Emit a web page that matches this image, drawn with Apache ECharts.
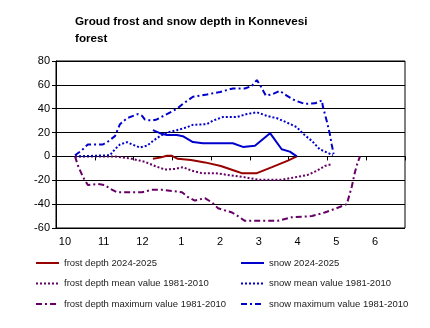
<!DOCTYPE html>
<html><head><meta charset="utf-8">
<script src="https://cdn.jsdelivr.net/npm/echarts@6/dist/echarts.min.js"></script>
<style>html,body{margin:0;padding:0;background:#fff}#c{width:430px;height:328px}</style>
</head><body><div id="c"></div>
<script>
// x positions: months measured from left edge of the plot (tick spacing = 1)
const monthLabels = ['10','11','12','1','2','3','4','5','6'];
const yTicks = [-60,-40,-20,0,20,40,60,80];

const frostNowX = [2.50,2.68,2.86,2.99,3.14,3.48,3.84,4.25,4.61,4.79,5.18,5.57,5.98,6.21];
const frostNowY = [-2,-1,0.5,0.5,-2,-3,-5,-8,-12,-14,-14,-9,-3.5,0];

const snowNowX = [2.50,2.68,2.86,3.12,3.27,3.53,3.79,4.56,4.82,5.13,5.52,5.82,6.03,6.21];
const snowNowY = [22,19.5,18,18,17,12,11,11,8,9,19.5,6,4,0];

const frostMeanX = [0.49,1.52,1.96,2.29,2.55,2.81,3.07,3.27,3.51,3.76,4.10,4.43,4.87,5.21,5.82,6.16,6.49,6.73,6.93,7.11];
const frostMeanY = [0,0,-2,-4.5,-8,-11,-10.5,-9,-12,-14,-14,-15.5,-17.5,-19.5,-19.5,-17.5,-15.5,-12,-8,-6.5];

const snowMeanX = [0.49,1.39,1.52,1.65,1.83,2.04,2.16,2.35,2.50,2.68,2.86,3.12,3.38,3.53,3.89,4.05,4.30,4.66,4.92,5.18,5.44,5.70,5.95,6.21,6.37,6.60,6.80,7.01,7.14];
const snowMeanY = [0,1,6,10,12,9,7.5,9,13,17,20,22,24.5,26.5,27,30,33,33,35.5,37,34,32,28.5,24.5,19,13,6,3,1];

const frostMaxX = [0.49,0.57,0.70,0.82,1.08,1.26,1.39,1.57,2.22,2.47,2.73,2.99,3.25,3.40,3.58,3.84,4.02,4.18,4.54,4.69,4.87,5.72,6.08,6.60,6.93,7.19,7.50,7.63,7.71,7.78,7.84];
const frostMaxY = [0,-8,-17.5,-24,-23,-24,-27,-30,-30,-28,-28,-29,-30,-34,-37,-35,-38.5,-43.5,-47,-50,-54,-54,-51,-50,-47,-44,-40,-25,-13,-5,0];

const snowMaxX = [0.49,0.66,0.82,1.21,1.34,1.52,1.65,1.83,2.11,2.22,2.29,2.47,2.60,2.86,3.12,3.27,3.53,3.89,4.23,4.56,4.87,5.05,5.18,5.26,5.41,5.57,5.77,5.95,6.16,6.42,6.68,6.86,6.88,6.98,7.06,7.11,7.16];
const snowMaxY = [1,5,10,10,12.5,17,27,32,35.5,34,31,30,31,35.5,40,44,50,52,54,57,57,59,64,60,51,52,55,51,47,44,44.5,47,42,30,19,10,2];

const names = ['frost depth 2024-2025','snow 2024-2025','frost depth mean value 1981-2010','snow mean value 1981-2010','frost depth maximum value 1981-2010','snow maximum value 1981-2010'];

function pairs(xs, ys){ return xs.map((x,i)=>[x, ys[i]]); }

const RED='#990000', BLUE='#0000CC', PURPLE='#660066';
const DOT=[2,2], DASHDOT=[6,3,2,3];

function mk(name, xs, ys, color, type){
  return {name, type:'line', xAxisIndex:0, data:pairs(xs,ys), symbol:'none', silent:true,
    lineStyle:{color, width:2, type}, itemStyle:{color}, animation:false};
}

const legendText = {fontFamily:'Liberation Sans, Arial', fontSize:9.5, color:'#222'};
function legend(left, items){
  return {data:items, orient:'vertical', left, top:258, padding:0, itemWidth:23, itemHeight:3, itemGap:10.5,
    itemStyle:{opacity:0}, textStyle:legendText, selectedMode:false};
}

const chart = echarts.init(document.getElementById('c'), null, {renderer:'canvas'});
chart.setOption({
  animation:false,
  backgroundColor:'#fff',
  title:{text:'Groud frost and snow depth in Konnevesi\nforest', left:75, top:13, padding:0,
    textStyle:{fontFamily:'Liberation Sans, Arial', fontSize:11.7, fontWeight:'bold', color:'#000', lineHeight:17}},
  grid:{left:56, right:25, top:61, bottom:100, show:true, borderColor:'#000', borderWidth:1, backgroundColor:'transparent'},
  legend:[
    legend(35, names.filter((n,i)=>i%2===0)),
    legend(240, names.filter((n,i)=>i%2===1))
  ],
  xAxis:[
    {type:'value', min:0, max:9, interval:1, axisLine:{onZero:true, lineStyle:{color:'#000', width:1}},
      axisTick:{show:true, length:4, lineStyle:{color:'#000'}}, axisLabel:{show:false}, splitLine:{show:false}},
    {type:'category', data:monthLabels, position:'bottom', boundaryGap:true,
      axisLine:{show:false, onZero:false}, axisTick:{show:false}, splitLine:{show:false},
      axisLabel:{margin:8, fontFamily:'Liberation Sans, Arial', fontSize:11, color:'#000', padding:[0,21,0,0]}}
  ],
  yAxis:{type:'value', min:yTicks[0], max:yTicks[yTicks.length-1], interval:20,
    axisLine:{show:true, onZero:false, lineStyle:{color:'#000'}},
    axisTick:{show:true, length:4, lineStyle:{color:'#000'}},
    axisLabel:{fontFamily:'Liberation Sans, Arial', fontSize:11, color:'#000', margin:6},
    splitLine:{show:true, lineStyle:{color:'#000', width:1}}},
  series:[
    mk(names[0], frostNowX, frostNowY, RED, 'solid'),
    mk(names[1], snowNowX, snowNowY, BLUE, 'solid'),
    mk(names[2], frostMeanX, frostMeanY, PURPLE, DOT),
    mk(names[3], snowMeanX, snowMeanY, BLUE, DOT),
    mk(names[4], frostMaxX, frostMaxY, PURPLE, DASHDOT),
    mk(names[5], snowMaxX, snowMaxY, BLUE, DASHDOT)
  ]
});
</script></body></html>
